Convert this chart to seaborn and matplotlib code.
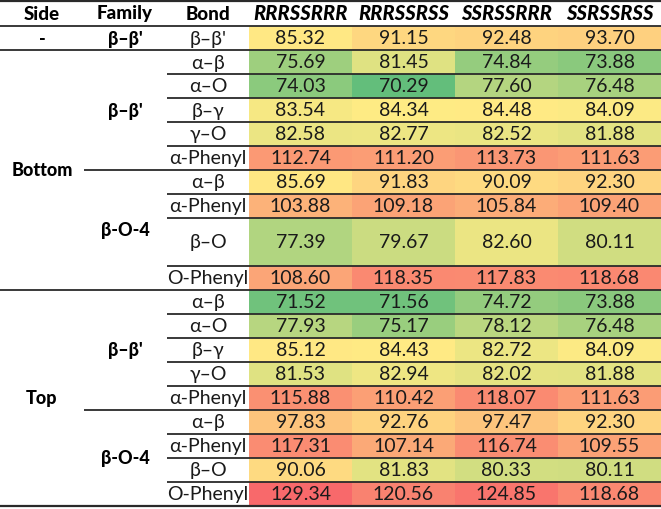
import numpy as np
import pandas as pd
import seaborn as sns
import matplotlib
matplotlib.use("Agg")
import matplotlib.pyplot as plt
from matplotlib.colors import LinearSegmentedColormap, TwoSlopeNorm

# ---------------- data ----------------
columns = ["RRRSSRRR", "RRRSSRSS", "SSRSSRRR", "SSRSSRSS"]
sides = ["-"] + ["Bottom"] * 9 + ["Top"] * 9
families = (["β–β'"] + ["β–β'"] * 5 + ["β-O-4"] * 4 + ["β–β'"] * 5 + ["β-O-4"] * 4)
bonds = ["β–β'",
         "α–β", "α–O", "β–γ", "γ–O", "α-Phenyl",
         "α–β", "α-Phenyl", "β–O", "O-Phenyl",
         "α–β", "α–O", "β–γ", "γ–O", "α-Phenyl",
         "α–β", "α-Phenyl", "β–O", "O-Phenyl"]
col_RRRSSRRR = [85.32, 75.69, 74.03, 83.54, 82.58, 112.74, 85.69, 103.88, 77.39, 108.60,
                71.52, 77.93, 85.12, 81.53, 115.88, 97.83, 117.31, 90.06, 129.34]
col_RRRSSRSS = [91.15, 81.45, 70.29, 84.34, 82.77, 111.20, 91.83, 109.18, 79.67, 118.35,
                71.56, 75.17, 84.43, 82.94, 110.42, 92.76, 107.14, 81.83, 120.56]
col_SSRSSRRR = [92.48, 74.84, 77.60, 84.48, 82.52, 113.73, 90.09, 105.84, 82.60, 117.83,
                74.72, 78.12, 82.72, 82.02, 118.07, 97.47, 116.74, 80.33, 124.85]
col_SSRSSRSS = [93.70, 73.88, 76.48, 84.09, 81.88, 111.63, 92.30, 109.40, 80.11, 118.68,
                73.88, 76.48, 84.09, 81.88, 111.63, 92.30, 109.55, 80.11, 118.68]

# ---------------- layout / style ----------------
row_units = [1] * 19
row_units[8] = 2          # the taller "β–O" row in Bottom / β-O-4
W, H = 661, 510
X0 = 249                  # left edge of value cells (px)
Y0 = 27                   # top of body (px)
UNIT = 24                 # px per row unit
x_side, x_fam, x_bond = 42, 125, 208
line_color = "#2a2a2a"
FONT = ["Lato", "DejaVu Sans"]

values = np.array([col_RRRSSRRR, col_RRRSSRSS, col_SSRSSRRR, col_SSRSSRSS]).T
expanded = np.repeat(values, row_units, axis=0)
df = pd.DataFrame(expanded, columns=columns)

cmap = LinearSegmentedColormap.from_list("excel3", ["#63BE7B", "#FFEB84", "#F8696B"])
norm = TwoSlopeNorm(vmin=values.min(), vcenter=float(np.median(values)) - 0.4,
                    vmax=values.max())

fig = plt.figure(figsize=(W / 100, H / 100), dpi=100)
fig.patch.set_facecolor("white")
n_units = sum(row_units)
ax = fig.add_axes([X0 / W, (H - Y0 - n_units * UNIT) / H, (W - X0) / W, n_units * UNIT / H])
sns.heatmap(df, ax=ax, cmap=cmap, norm=norm, cbar=False, annot=False,
            xticklabels=False, yticklabels=False, linewidths=0)
ax.set_xlabel("")
ax.set_ylabel("")

cum = np.concatenate([[0], np.cumsum(row_units)])
# values
for i in range(values.shape[0]):
    yc = cum[i] + row_units[i] / 2
    for j in range(values.shape[1]):
        ax.text(j + 0.5, yc, f"{values[i, j]:.2f}", ha="center", va="center",
                fontsize=14, color="#1a1a1a", family=FONT)
# column headers
for j, c in enumerate(columns):
    ax.text(j + 0.5, -0.55, c, ha="center", va="center", fontsize=14.5,
            fontweight="black", fontstyle="italic", color="black", family=FONT, clip_on=False)

# overlay for left table part and rules
ov = fig.add_axes([0, 0, 1, 1])
ov.set_xlim(0, W)
ov.set_ylim(H, 0)
ov.axis("off")
ov.patch.set_alpha(0)

def ypx(u):
    return Y0 + u * UNIT

for lbl, x in [("Side", x_side), ("Family", x_fam), ("Bond", x_bond)]:
    ov.text(x, 14, lbl, ha="center", va="center", fontsize=13.5, fontweight="black", family=FONT)

# bond labels
for i, b in enumerate(bonds):
    ov.text(x_bond, ypx(cum[i] + row_units[i] / 2), b, ha="center", va="center",
            fontsize=14, color="#1a1a1a", family=FONT)

# group labels
def groups(keys):
    out = []
    start = 0
    for i in range(1, len(keys) + 1):
        if i == len(keys) or keys[i] != keys[start]:
            out.append((keys[start], start, i))
            start = i
    return out

side_keys = sides
fam_keys = [s + "|" + f for s, f in zip(sides, families)]
for key, a, b in groups(side_keys):
    ov.text(x_side, (ypx(cum[a]) + ypx(cum[b])) / 2, key, ha="center", va="center",
            fontsize=13, fontweight="black", family=FONT)
for key, a, b in groups(fam_keys):
    ov.text(x_fam, (ypx(cum[a]) + ypx(cum[b])) / 2, key.split("|")[1], ha="center",
            va="center", fontsize=13, fontweight="black", family=FONT)

# rules
ov.hlines(1.5, 0, W, color=line_color, lw=1.6)
ov.hlines(Y0, 0, W, color=line_color, lw=1.3)
for i in range(1, len(bonds) + 1):
    y = ypx(cum[i])
    if i == len(bonds):
        ov.hlines(y, 0, W, color=line_color, lw=1.6)
    elif sides[i] != sides[i - 1]:
        ov.hlines(y, 0, W, color=line_color, lw=1.3)
    elif families[i] != families[i - 1]:
        ov.hlines(y, 84, W, color=line_color, lw=1.3)
    else:
        ov.hlines(y, 167, W, color=line_color, lw=1.3)

fig.savefig("out.png", dpi=100, facecolor="white")
